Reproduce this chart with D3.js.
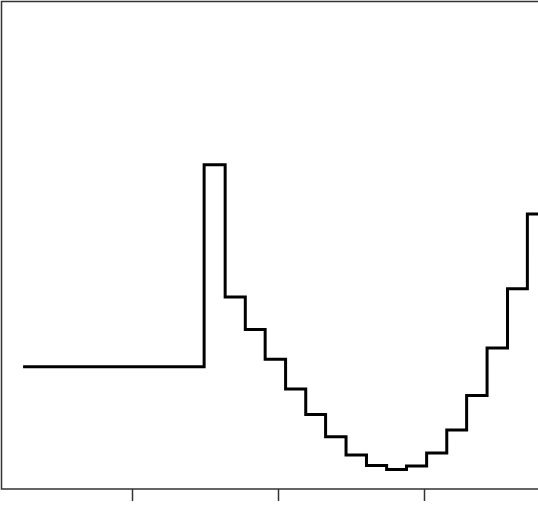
<!DOCTYPE html>
<html>
<head>
<meta charset="utf-8">
<script src="https://cdn.jsdelivr.net/npm/d3@7"></script>
<style>
  html, body { margin: 0; padding: 0; background: #fff; }
  svg { display: block; }
</style>
</head>
<body>
<svg id="chart" width="538" height="517"></svg>
<script>
const WIDTH  = 538;
const HEIGHT = 517;
const PLOTLEFT   = 1.5;
const PLOTTOP    = 1.5;
const PLOTBOTTOM = 489;

// step positions (x) and levels (y)
var xValues = [12.7, 74.7, 81.9, 88.8, 95.6, 102.6, 109.5, 116.3, 123.3, 130.3,
               137.2, 144.0, 150.9, 157.8, 164.6, 171.6, 178.6, 185.4, 192.4];
var yValues = [25.1, 66.5, 39.4, 32.7, 26.6, 20.5, 15.3, 10.7, 7.0, 4.8,
               4.0, 4.7, 7.4, 12.1, 19.2, 28.9, 41.1, 56.4, 62.0];
var xTicks = [50, 100, 150];

var points = xValues.map(function(x, i){ return {x: x, y: yValues[i]}; });

var vis = d3.select("#chart");

var xRange = d3.scaleLinear()
    .domain([50, 150])
    .range([132, 424]);

var yRange = d3.scaleLinear()
    .domain([0, 100])
    .range([PLOTBOTTOM, PLOTTOP]);

vis.append("clipPath")
    .attr("id", "plotclip")
  .append("rect")
    .attr("x", PLOTLEFT)
    .attr("y", PLOTTOP)
    .attr("width", WIDTH)
    .attr("height", PLOTBOTTOM - PLOTTOP);

// frame
vis.append("path")
    .attr("d", "M" + (WIDTH + 10) + "," + PLOTTOP + "H" + PLOTLEFT + "V" + PLOTBOTTOM + "H" + (WIDTH + 10))
    .attr("fill", "none")
    .attr("stroke", "#333")
    .attr("stroke-width", 1.5);

var xAxis = d3.axisBottom()
    .scale(xRange)
    .tickValues(xTicks)
    .tickFormat("")
    .tickSize(12)
    .tickSizeOuter(0);

var gx = vis.append("g")
    .attr("class", "x axis")
    .attr("transform", "translate(0," + PLOTBOTTOM + ")")
    .call(xAxis);
gx.select(".domain").remove();
gx.selectAll(".tick line")
    .attr("stroke", "#333")
    .attr("stroke-width", 1.5);

var line = d3.line()
    .x(function(d){ return xRange(d.x); })
    .y(function(d){ return yRange(d.y); })
    .curve(d3.curveStepAfter);

vis.append("path")
    .datum(points)
    .attr("clip-path", "url(#plotclip)")
    .attr("d", line)
    .attr("fill", "none")
    .attr("stroke", "#000")
    .attr("stroke-width", 3)
    .attr("stroke-linejoin", "miter")
    .attr("stroke-linecap", "butt");
</script>
</body>
</html>
